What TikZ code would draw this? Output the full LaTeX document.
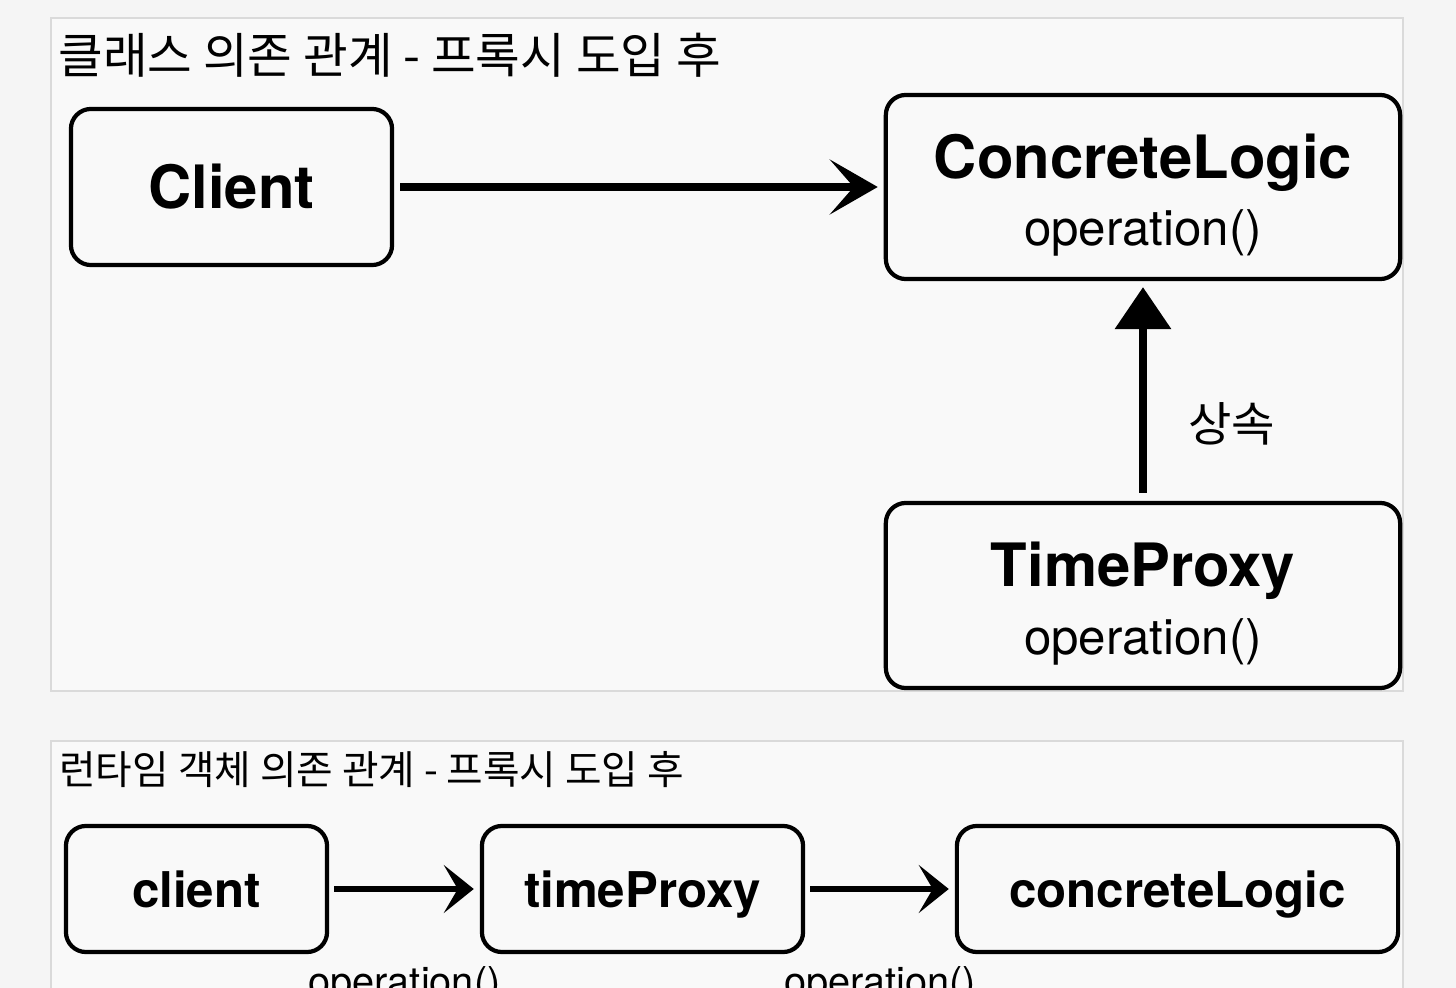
\documentclass[tikz,border=0pt]{standalone}
\usepackage{fontspec}
\setmainfont{TeX Gyre Heros}
\newfontfamily\kr{Noto Sans CJK KR}
\usetikzlibrary{arrows.meta}
\definecolor{pagebg}{HTML}{F5F5F5}
\definecolor{panelbg}{HTML}{F9F9F9}
\definecolor{panelline}{HTML}{DADADA}
\newcommand\clsname[1]{{\bfseries\fontsize{17}{20}\selectfont\rule{0pt}{17.2pt}#1}}
\newcommand\opname[1]{{\fontsize{14}{17}\selectfont #1}}
\tikzset{
  panel/.style = {fill = panelbg, draw = panelline, line width = 0.8pt},
  classbox/.style = {draw = black, fill = panelbg, line width = 1.2pt, rounded corners = 0.2cm, align = center, inner sep = 0pt},
  objbox/.style = {classbox, font = \bfseries\fontsize{14}{17}\selectfont, text height = 13pt, text depth = 2.2pt},
  depend/.style = {line width = 2pt, -{Stealth[length = 0.48cm, width = 0.55cm, inset = 0.24cm]}, shorten < = 0.06cm, shorten > = 0.06cm},
  extend/.style = {line width = 2pt, -{Triangle[length = 0.42cm, width = 0.55cm]}, shorten < = 0.08cm, shorten > = 0.06cm},
  call/.style = {line width = 1.5pt, -{Stealth[length = 0.3cm, width = 0.48cm, inset = 0.14cm]}, shorten < = 0.05cm, shorten > = 0.06cm}
}
\begin{document}
\begin{tikzpicture}[x = 0.01cm, y = -0.01cm]
\useasboundingbox (0,0) rectangle (1456,988);
\clip (0,0) rectangle (1456,988);
\fill[pagebg] (0,0) rectangle (1456,988);
\draw[panel] (51,18) rectangle (1403,691);
\draw[panel] (51,741) rectangle (1403,1010);
% class dependency
\node[anchor = west, font = \kr\fontsize{13.8}{16}\selectfont] (title1) at (46,55) {클래스 의존 관계 - 프록시 도입 후};
\node[classbox, minimum width = 3.21cm, minimum height = 1.56cm] (client) at (231.5,187) {{\bfseries\fontsize{17}{20}\selectfont Client}};
\node[classbox, minimum width = 5.14cm, minimum height = 1.84cm] (concrete) at (1143,187) {\clsname{ConcreteLogic}\\[4.3pt]\opname{operation()}};
\node[classbox, minimum width = 5.14cm, minimum height = 1.85cm] (proxy) at (1143,595.5) {\clsname{TimeProxy}\\[4.3pt]\opname{operation()}};
\draw[depend] (client) -- (concrete);
\draw[extend] (proxy) -- (concrete) node[pos = 0.35, right = 0.3cm, font = \kr\fontsize{13.4}{15}\selectfont] (inherit) {상속};
% runtime objects
\node[anchor = west, font = \kr\fontsize{11.3}{13}\selectfont] (title2) at (47,770) {런타임 객체 의존 관계 - 프록시 도입 후};
\node[objbox, minimum width = 2.61cm, minimum height = 1.26cm] (clientobj) at (196.5,889) {client};
\node[objbox, minimum width = 3.21cm, minimum height = 1.26cm] (proxyobj) at (642.5,889) {timeProxy};
\node[objbox, minimum width = 4.41cm, minimum height = 1.26cm] (concreteobj) at (1177.5,889) {concreteLogic};
\draw[call] (clientobj) -- (proxyobj) node[midway, below = 0.63cm, font = \fontsize{11.3}{13}\selectfont] (op1) {operation()};
\draw[call] (proxyobj) -- (concreteobj) node[midway, below = 0.63cm, font = \fontsize{11.3}{13}\selectfont] (op2) {operation()};
\end{tikzpicture}
\end{document}
